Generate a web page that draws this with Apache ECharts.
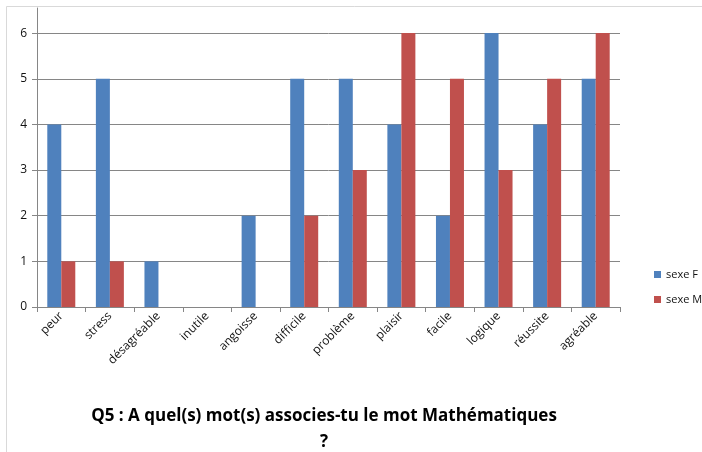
<!DOCTYPE html>
<html><head><meta charset="utf-8">
<script src="https://cdn.jsdelivr.net/npm/echarts@6/dist/echarts.min.js"></script>
<style>html,body{margin:0;padding:0;background:#fff}#c{width:702px;height:452px}</style>
</head><body><div id="c"></div>
<script>
const categories = ['peur','stress','désagréable','inutile','angoisse','difficile','problème','plaisir','facile','logique','réussite','agréable'];
const sexeF = [4,5,1,0,2,5,5,4,2,6,4,5];
const sexeM = [1,1,0,0,0,2,3,6,5,3,5,6];
const seriesNames = ['sexe F','sexe M'];
const titleText = 'Q5 : A quel(s) mot(s) associes-tu le mot Mathématiques\n?';

const chart = echarts.init(document.getElementById('c'), null, {renderer:'canvas'});
const font = '"Open Sans", "DejaVu Sans", sans-serif';
chart.setOption({
  animation:false,
  backgroundColor:'#fff',
  graphic:[{type:'rect', shape:{x:6.5,y:6.5,width:700,height:460}, style:{fill:null, stroke:'#d9d9d9', lineWidth:1}, silent:true}],
  title:{text:titleText, left:319, textAlign:'center', top:398,
    textStyle:{fontFamily:font, fontWeight:'bold', fontSize:17, color:'#000', lineHeight:26}},
  legend:{orient:'vertical', left:649, top:264, itemWidth:7, itemHeight:7, itemGap:14,
    icon:'rect', textStyle:{fontFamily:font, fontSize:11, color:'#111'}, data:seriesNames},
  grid:{left:37, right:82, top:8, bottom:145, containLabel:false},
  xAxis:{type:'category', data:categories,
    axisLine:{lineStyle:{color:'#868686'}},
    axisTick:{show:true, length:5, lineStyle:{color:'#868686'}},
    axisLabel:{rotate:45, fontFamily:font, fontSize:12, color:'#111', margin:7, interval:0}},
  yAxis:{type:'value', min:0, max:6.55, interval:1,
    axisLine:{show:true, lineStyle:{color:'#868686'}},
    axisTick:{show:true, length:5, lineStyle:{color:'#868686'}},
    axisLabel:{fontFamily:font, fontSize:12, color:'#111', margin:10, showMaxLabel:false,
      formatter:v=> (Number.isInteger(v)? String(v):'')},
    splitLine:{show:true, showMaxLine:false, lineStyle:{color:'#868686', width:1}}},
  series:[
    {name:seriesNames[0], type:'bar', data:sexeF, barWidth:14, barGap:'0%', itemStyle:{color:'#4F81BD'}},
    {name:seriesNames[1], type:'bar', data:sexeM, barWidth:14, barGap:'0%', itemStyle:{color:'#C0504D'}}
  ]
});
</script></body></html>
